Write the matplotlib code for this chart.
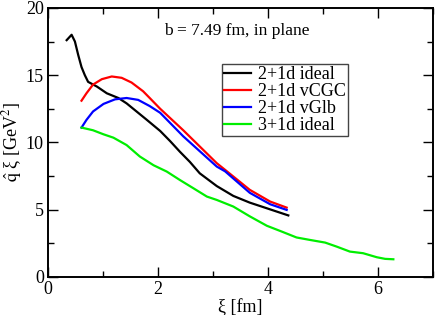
import matplotlib
matplotlib.use("Agg")
import matplotlib.pyplot as plt
from matplotlib.ticker import MultipleLocator

plt.rcParams['font.family'] = ['Liberation Serif', 'DejaVu Serif']
plt.rcParams['mathtext.fontset'] = 'stix'

# data
x_ideal21 = [0.34, 0.43, 0.49, 0.55, 0.61, 0.67, 0.73, 0.89, 1.07, 1.28, 1.43, 1.61, 1.79, 2.04, 2.22,
             2.4, 2.58, 2.76, 3.07, 3.37, 3.67, 3.98, 4.37]
y_ideal21 = [17.6, 18.0, 17.5, 16.5, 15.6, 15.0, 14.5, 14.15, 13.65, 13.3, 12.9, 12.3, 11.7, 10.85, 10.1,
             9.3, 8.55, 7.7, 6.75, 6.02, 5.52, 5.1, 4.57]

x_vcgc = [0.61, 0.70, 0.82, 0.98, 1.16, 1.34, 1.52, 1.73, 1.85, 2.04, 2.46, 3.07, 3.22, 3.67, 4.04, 4.34]
y_vcgc = [13.1, 13.65, 14.3, 14.7, 14.9, 14.8, 14.45, 13.8, 13.3, 12.5, 10.9, 8.45, 7.96, 6.47, 5.6, 5.15]

x_vglb = [0.61, 0.70, 0.82, 1.01, 1.22, 1.43, 1.64, 1.85, 2.04, 2.46, 3.07, 3.22, 3.67, 4.04, 4.34]
y_vglb = [11.1, 11.67, 12.3, 12.86, 13.2, 13.3, 13.16, 12.7, 12.2, 10.45, 8.2, 7.85, 6.25, 5.4, 4.98]

x_ideal31 = [0.61, 0.82, 1.01, 1.19, 1.43, 1.67, 1.92, 2.16, 2.4, 2.64, 2.89, 3.07, 3.37, 3.67, 3.98,
             4.25, 4.52, 4.76, 5.04, 5.25, 5.49, 5.73, 5.98, 6.13, 6.28]
y_ideal31 = [11.1, 10.9, 10.6, 10.35, 9.8, 8.95, 8.3, 7.83, 7.2, 6.6, 5.97, 5.72, 5.23, 4.5, 3.8,
             3.37, 2.93, 2.75, 2.55, 2.25, 1.88, 1.76, 1.46, 1.34, 1.31]

labels = ['2+1d ideal', '2+1d vCGC', '2+1d vGlb', '3+1d ideal']

fig = plt.figure(figsize=(4.36, 3.15), dpi=100)
ax = fig.add_axes([0.110, 0.121, 0.883, 0.854])

ax.plot(x_ideal21, y_ideal21, color='black', lw=1.6, label=labels[0])
ax.plot(x_vcgc, y_vcgc, color='red', lw=1.6, label=labels[1])
ax.plot(x_vglb, y_vglb, color='blue', lw=1.6, label=labels[2])
ax.plot(x_ideal31, y_ideal31, color='#00ee00', lw=1.6, label=labels[3])

ax.set_xlim(0, 7)
ax.set_ylim(0, 20)
ax.xaxis.set_major_locator(MultipleLocator(2))
ax.xaxis.set_minor_locator(MultipleLocator(1))
ax.yaxis.set_major_locator(MultipleLocator(5))
ax.yaxis.set_minor_locator(MultipleLocator(2.5))
ax.tick_params(which='both', direction='in', top=True, right=True, labelsize=13)
ax.tick_params(which='major', length=7, width=1, pad=3)
ax.tick_params(which='minor', length=4, width=1)
for s in ax.spines.values():
    s.set_linewidth(1.4)

ax.set_xlabel('ξ [fm]', fontsize=13, labelpad=0)
ax.set_ylabel(r'$\hat{\mathrm{q}}$ ξ [GeV$^2$]', fontsize=13, labelpad=1)

ax.text(3.44, 18.3, 'b = 7.49 fm, in plane', fontsize=12.5, ha='center', va='center')

leg = ax.legend(loc='upper left', bbox_to_anchor=(0.452, 0.79), fontsize=13,
                frameon=True, fancybox=False, edgecolor='#444444', framealpha=1,
                handlelength=1.5, handletextpad=0.4, labelspacing=0.0,
                borderpad=0.1, borderaxespad=0)
leg.get_frame().set_linewidth(1.0)

fig.savefig('out.png', dpi=100)
